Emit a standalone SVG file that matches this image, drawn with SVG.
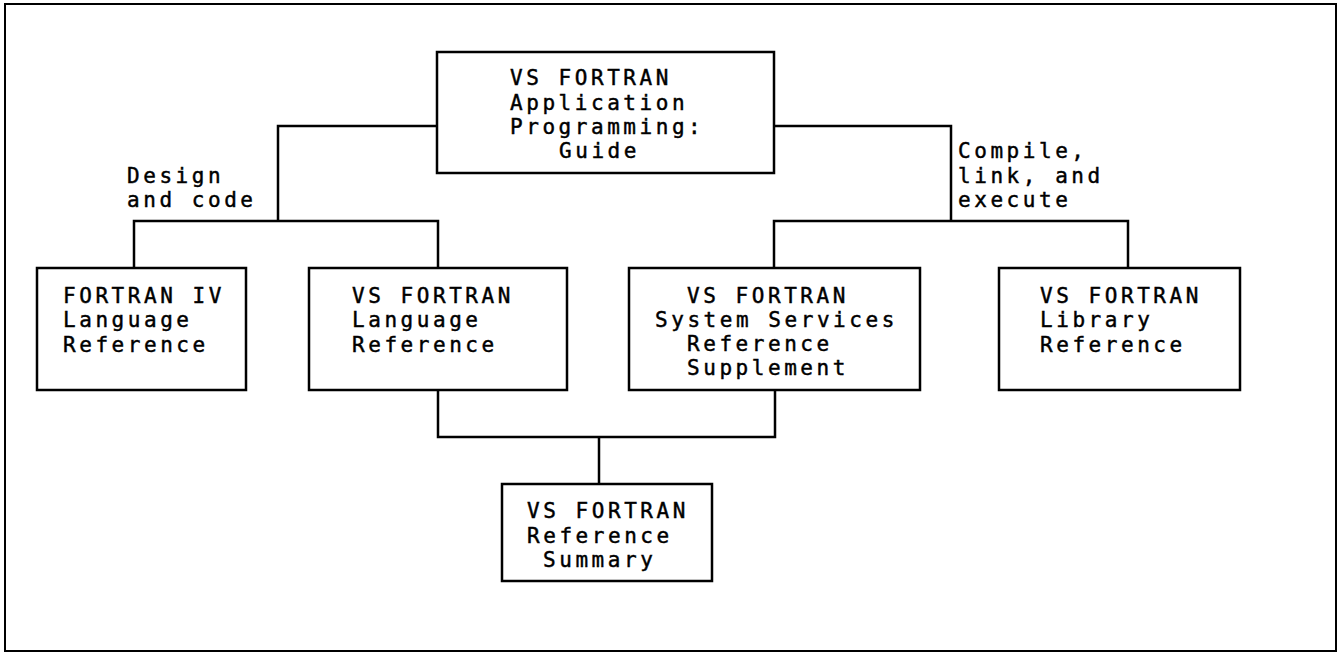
<svg xmlns="http://www.w3.org/2000/svg" width="1339" height="653" viewBox="0 0 1339 653">
<style>
.box{fill:#fff;stroke:#000;stroke-width:2.5}
.con{fill:none;stroke:#000;stroke-width:2.5}
text{font-family:"DejaVu Sans Mono","Liberation Mono",monospace;font-size:21px;letter-spacing:3.55px;fill:#000;stroke:#000;stroke-width:0.45}
</style>
<rect x="0" y="0" width="1339" height="653" fill="#fff"/>
<rect x="5" y="4" width="1331" height="647" fill="none" stroke="#000" stroke-width="2"/>
<g id="connectors">
<path class="con" d="M437 126 H278 V221"/>
<path class="con" d="M134 268 V221 H438 V268"/>
<path class="con" d="M774 126 H951 V221"/>
<path class="con" d="M774 268 V221 H1128 V268"/>
<path class="con" d="M438 390 V437 H775 V390"/>
<path class="con" d="M599 437 V484"/>
<text x="127" y="183">Design</text>
<text x="127" y="207">and code</text>
<text x="958" y="158">Compile,</text>
<text x="958" y="183">link, and</text>
<text x="958" y="207">execute</text>
</g>
<g id="guide">
<rect class="box" x="437" y="52" width="337" height="121"/>
<text x="510" y="85">VS FORTRAN</text>
<text x="510" y="110">Application</text>
<text x="510" y="134">Programming:</text>
<text x="559" y="158">Guide</text>
</g>
<g id="fortran4">
<rect class="box" x="37" y="268" width="209" height="122"/>
<text x="63" y="303">FORTRAN IV</text>
<text x="63" y="327">Language</text>
<text x="63" y="352">Reference</text>
</g>
<g id="langref">
<rect class="box" x="309" y="268" width="258" height="122"/>
<text x="352" y="303">VS FORTRAN</text>
<text x="352" y="327">Language</text>
<text x="352" y="352">Reference</text>
</g>
<g id="sysserv">
<rect class="box" x="629" y="268" width="291" height="122"/>
<text x="687" y="303">VS FORTRAN</text>
<text x="655" y="327">System Services</text>
<text x="687" y="351">Reference</text>
<text x="687" y="375">Supplement</text>
</g>
<g id="library">
<rect class="box" x="999" y="268" width="241" height="122"/>
<text x="1040" y="303">VS FORTRAN</text>
<text x="1040" y="327">Library</text>
<text x="1040" y="352">Reference</text>
</g>
<g id="summary">
<rect class="box" x="502" y="484" width="210" height="97"/>
<text x="527" y="518">VS FORTRAN</text>
<text x="527" y="543">Reference</text>
<text x="543" y="567">Summary</text>
</g>
</svg>
